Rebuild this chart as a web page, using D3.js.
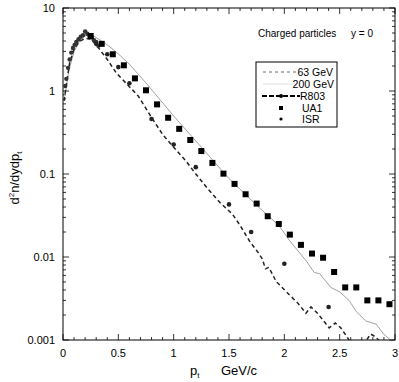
<!DOCTYPE html>
<html>
<head>
<meta charset="utf-8">
<script src="https://cdn.jsdelivr.net/npm/d3@7"></script>
<style>
  body { margin: 0; background: #fff; }
  svg { display: block; font-family: "Liberation Sans", Arial, sans-serif; }
</style>
</head>
<body>
<div id="chart"></div>
<script>
// UA1 squares
let ptUA1 = [0.25,0.35,0.45,0.55,0.65,0.75,0.85,0.95,1.05,1.15,1.25,1.35,1.45,1.55,
             1.65,1.75,1.85,1.95,2.05,2.15,2.25,2.35,2.45,2.55,2.65,2.75,2.85,2.95]
let valUA1 = [4.6,3.7,2.77,2.04,1.42,1.02,0.69,0.476,0.35,0.257,0.189,0.136,0.101,0.076,
              0.057,0.044,0.031,0.025,0.0186,0.014,0.011,0.0098,0.0066,0.0043,0.0043,0.0030,0.0030,0.0027]

// ISR dots
let ptISR = [0.3,0.4,0.5,0.6,0.8,1.0,1.2,1.5,1.7,2.0,2.4]
let valISR = [3.7,2.77,1.94,1.24,0.46,0.227,0.121,0.043,0.020,0.0083,0.0025]

// R803 dots (low pt)
let ptR803 = [0.02,0.03,0.045,0.06,0.075,0.09,0.105,0.12,0.14,0.16,0.18,0.2,0.22,0.24,0.26,0.28,0.3,0.32]
let valR803 = [1.15,1.4,1.9,2.4,2.9,3.3,3.6,3.9,4.2,4.5,4.7,5.2,4.9,4.6,4.4,4.1,3.9,3.5]

// 63 GeV curve
let pt63 = [0.01,0.035,0.06,0.1,0.15,0.2,0.25,0.3,0.4,0.48,0.58,0.68,0.8,0.9,1.0,1.11,1.2,1.31,1.42,
            1.53,1.6,1.685,1.77,1.8,1.83,1.86,1.925,2.045,2.12,2.195,2.24,2.3,2.405,2.46,2.51,2.585,
            2.65,2.72,2.78,2.82,2.87]
let val63 = [0.76,1.3,2.2,3.2,3.95,4.3,4.2,3.6,2.4,1.66,1.2,0.87,0.48,0.30,0.21,0.144,0.10,0.066,0.045,
             0.033,0.024,0.0156,0.011,0.0095,0.0072,0.0075,0.0051,0.0035,0.0028,0.0021,0.0025,0.0021,0.0014,0.0016,0.0014,0.001,
             0.0008,0.0009,0.00118,0.0011,0.00095]

// 200 GeV curve
let pt200 = [0.02,0.05,0.1,0.15,0.2,0.25,0.3,0.4,0.5,0.6,0.75,1.0,1.25,1.5,1.75,1.95,2.05,2.2,2.27,2.32,
             2.375,2.42,2.5,2.585,2.65,2.735,2.83,2.9,2.96]
let val200 = [0.9,1.7,3.0,4.0,4.6,4.8,4.4,3.6,2.8,2.1,1.25,0.5,0.21,0.088,0.042,0.024,0.0156,0.0089,0.0065,0.0063,
              0.0051,0.0043,0.0038,0.003,0.0022,0.0017,0.00155,0.00117,0.001]

let xTicks = [0,0.5,1,1.5,2,2.5,3]
let xTickLabels = ["0","0.5","1","1.5","2","2.5","3"]
let yTicks = [10,1,0.1,0.01,0.001]
let yTickLabels = ["10","1","0.1","0.01","0.001"]

let legendNames = ["63 GeV","200 GeV","R803","UA1","ISR"]

let svg_width = 399
let svg_height = 382
let pLeft = 63, pRight = 395, pTop = 8, pBottom = 340

let svg = d3.select("#chart")
  .append("svg")
  .attr("width", svg_width)
  .attr("height", svg_height)

let x = d3.scaleLinear().domain([0,3]).range([pLeft,pRight])
let y = d3.scaleLog().domain([0.001,10]).range([pBottom,pTop])

svg.append("clipPath").attr("id","clip")
  .append("rect").attr("x",pLeft).attr("y",pTop).attr("width",pRight-pLeft).attr("height",pBottom-pTop)

// minor ticks
let xMinor = d3.range(0,3.0001,0.1)
let yMinor = []
for (let e = -3; e < 1; e++) for (let k = 2; k <= 9; k++) yMinor.push(k*Math.pow(10,e))

function tickLines(sel, data, fn) {
  sel.selectAll(null).data(data).enter().append("line")
    .each(fn)
    .attr("stroke","#000").attr("stroke-width",0.8)
}

let isMajorX = d => Math.abs(d*2 - Math.round(d*2)) < 1e-6

let ticks = svg.append("g")
tickLines(ticks, xMinor, function(d) {
  let len = isMajorX(d) ? 6 : 3
  d3.select(this).attr("x1",x(d)).attr("x2",x(d)).attr("y1",pBottom).attr("y2",pBottom-len)
})
tickLines(ticks, xMinor, function(d) {
  let len = isMajorX(d) ? 6 : 3
  d3.select(this).attr("x1",x(d)).attr("x2",x(d)).attr("y1",pTop).attr("y2",pTop+len)
})
tickLines(ticks, yTicks, function(d) {
  d3.select(this).attr("x1",pLeft).attr("x2",pLeft+6).attr("y1",y(d)).attr("y2",y(d))
})
tickLines(ticks, yTicks, function(d) {
  d3.select(this).attr("x1",pRight).attr("x2",pRight-6).attr("y1",y(d)).attr("y2",y(d))
})
tickLines(ticks, yMinor, function(d) {
  d3.select(this).attr("x1",pLeft).attr("x2",pLeft+3).attr("y1",y(d)).attr("y2",y(d))
})
tickLines(ticks, yMinor, function(d) {
  d3.select(this).attr("x1",pRight).attr("x2",pRight-3).attr("y1",y(d)).attr("y2",y(d))
})

// frame
svg.append("rect")
  .attr("x",pLeft).attr("y",pTop).attr("width",pRight-pLeft).attr("height",pBottom-pTop)
  .attr("fill","none").attr("stroke","#000").attr("stroke-width",1)

// tick labels
svg.selectAll(".xl").data(xTicks).enter().append("text")
  .attr("x", d => x(d)).attr("y", pBottom+17)
  .attr("text-anchor","middle").attr("font-size",11)
  .text((d,i) => xTickLabels[i])
svg.selectAll(".yl").data(yTicks).enter().append("text")
  .attr("x", pLeft-8).attr("y", d => y(d)+4)
  .attr("text-anchor","end").attr("font-size",11)
  .text((d,i) => yTickLabels[i])

// axis titles
let xt = svg.append("text").attr("x",190).attr("y",375).attr("font-size",13)
xt.append("tspan").text("p")
xt.append("tspan").attr("font-size",8).attr("dy",3).text("t")
svg.append("text").attr("x",221).attr("y",375).attr("font-size",13).text("GeV/c")

let yt = svg.append("text").attr("transform","translate(19,178) rotate(-90)")
  .attr("text-anchor","middle").attr("font-size",13)
yt.append("tspan").text("d")
yt.append("tspan").attr("font-size",8).attr("dy",-5).text("2")
yt.append("tspan").attr("dy",5).text("n/dydp")
yt.append("tspan").attr("font-size",8).attr("dy",3).text("t")

// curves
let plot = svg.append("g").attr("clip-path","url(#clip)")
let line = d3.line().x(d => x(d[0])).y(d => y(d[1]))

plot.append("path").datum(pt200.map((p,i) => [p,val200[i]]))
  .attr("d",line).attr("fill","none").attr("stroke","#888").attr("stroke-width",0.8)

plot.append("path").datum(pt63.map((p,i) => [p,val63[i]]))
  .attr("d",line).attr("fill","none").attr("stroke","#222").attr("stroke-width",1.5)
  .attr("stroke-dasharray","4,3")

plot.selectAll(".r803").data(ptR803.map((p,i) => [p,valR803[i]])).enter().append("circle")
  .attr("cx", d => x(d[0])).attr("cy", d => y(d[1])).attr("r",2.2).attr("fill","#333")

plot.selectAll(".isr").data(ptISR.map((p,i) => [p,valISR[i]])).enter().append("circle")
  .attr("cx", d => x(d[0])).attr("cy", d => y(d[1])).attr("r",2.3).attr("fill","#222")

plot.selectAll(".ua1").data(ptUA1.map((p,i) => [p,valUA1[i]])).enter().append("rect")
  .attr("x", d => x(d[0])-3).attr("y", d => y(d[1])-3).attr("width",6).attr("height",6).attr("fill","#000")

// title
svg.append("text").attr("x",258).attr("y",37).attr("font-size",10).text("Charged particles")
svg.append("text").attr("x",351).attr("y",37).attr("font-size",10).text("y = 0")

// legend
let lg = svg.append("g")
lg.append("rect").attr("x",256).attr("y",62).attr("width",81).attr("height",65)
  .attr("fill","#fff").attr("stroke","#000").attr("stroke-width",1)
let rowY = [72,84,96,108,119]
let textX = [333,334,300,302,302]
let anchors = ["end","end","start","start","start"]
lg.selectAll("text").data(legendNames).enter().append("text")
  .attr("x",(d,i) => textX[i]).attr("y",(d,i) => rowY[i]+4).attr("font-size",10.5)
  .attr("text-anchor",(d,i) => anchors[i])
  .text(d => d)
lg.append("line").attr("x1",263).attr("x2",296).attr("y1",rowY[0]).attr("y2",rowY[0])
  .attr("stroke","#444").attr("stroke-width",0.8).attr("stroke-dasharray","3,3")
lg.append("line").attr("x1",263).attr("x2",295).attr("y1",rowY[1]).attr("y2",rowY[1])
  .attr("stroke","#ccc").attr("stroke-width",0.6)
lg.append("line").attr("x1",262).attr("x2",300).attr("y1",rowY[2]).attr("y2",rowY[2])
  .attr("stroke","#000").attr("stroke-width",2).attr("stroke-dasharray","5,2")
lg.append("circle").attr("cx",281).attr("cy",rowY[2]).attr("r",2).attr("fill","#000")
lg.append("rect").attr("x",279).attr("y",rowY[3]-2).attr("width",4).attr("height",4).attr("fill","#000")
lg.append("circle").attr("cx",281).attr("cy",rowY[4]).attr("r",1.6).attr("fill","#000")
</script>
</body>
</html>
